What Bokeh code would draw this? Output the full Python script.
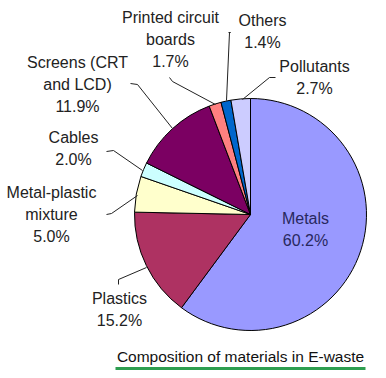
import math
from bokeh.plotting import figure
from bokeh.models import Range1d, ColumnDataSource
from bokeh.core.properties import value
from bokeh.embed import file_html
from bokeh.resources import INLINE

categories = ["Metals", "Plastics", "Metal-plastic mixture", "Cables",
              "Screens (CRT and LCD)", "Printed circuit boards", "Others", "Pollutants"]
shares = [60.2, 15.2, 5.0, 2.0, 11.9, 1.7, 1.4, 2.7]
colors = ["#9999FF", "#AE3262", "#FFFFCC", "#CCFFFF", "#7B0062", "#FF8080", "#0066CC", "#CCCCFF"]
label_lines = [["Metals", "60.2%"], ["Plastics", "15.2%"], ["Metal-plastic", "mixture", "5.0%"],
               ["Cables", "2.0%"], ["Screens (CRT", "and LCD)", "11.9%"],
               ["Printed circuit", "boards", "1.7%"], ["Others", "1.4%"], ["Pollutants", "2.7%"]]
title_text = "Composition of materials in E-waste"

W, H = 370, 370
def Y(py):
    return H - py

p = figure(width=W, height=H, output_backend="svg", toolbar_location=None,
           x_range=Range1d(0, W), y_range=Range1d(0, H), min_border=0)
p.axis.visible = False
p.grid.visible = False
p.outline_line_color = None
p.background_fill_color = "white"
p.border_fill_color = "white"

cx, cy, r = 250, Y(214), 116
total = sum(shares)
starts, ends = [], []
cum = 0.0
for s in shares:
    starts.append(math.pi / 2 - cum / total * 2 * math.pi)
    cum += s
    ends.append(math.pi / 2 - cum / total * 2 * math.pi)
src = ColumnDataSource(dict(x=[cx] * len(shares), y=[cy] * len(shares),
                            start=starts, end=ends, color=colors))
p.wedge(x="x", y="y", radius=r, start_angle="start", end_angle="end", direction="clock",
        fill_color="color", line_color="black", line_width=1, source=src)

# leader lines (pixel coords of reference)
leaders = [
    [(118, 284), (118, 279), (146, 267)],
    [(106, 214), (111, 213), (137, 195)],
    [(106, 151), (113, 150), (142, 170)],
    [(130, 83), (137, 84), (172, 128)],
    [(169, 77), (172, 81), (215, 104)],
    [(228, 32), (230, 32), (229, 32), (226, 100)],
    [(275, 77), (269, 77), (242, 99)],
]
for pts in leaders:
    p.line([q[0] for q in pts], [Y(q[1]) for q in pts], line_color="#222222", line_width=1)

# label positions: center x, first line y (pixel)
label_pos = [(305, 218), (119, 298), (51, 192), (73, 137), (77, 62), (170, 17), (262, 20), (314, 66)]
lx, ly, lt, lc = [], [], [], []
for i, lines in enumerate(label_lines):
    x0, y0 = label_pos[i]
    for j, t in enumerate(lines):
        lx.append(x0)
        ly.append(Y(y0 + 22 * j))
        lt.append(t)
        lc.append("#28285e" if i == 0 else "#222222")
p.text(x=lx, y=ly, text=lt, text_color=lc, text_font=value("Liberation Sans"),
       text_font_size="16px", text_align="center", text_baseline="middle")

p.text(x=[240], y=[Y(356)], text=[title_text], text_color="#111111",
       text_font=value("Liberation Sans"), text_font_size="15.5px",
       text_align="center", text_baseline="middle")
p.line([115, 365], [Y(368), Y(368)], line_color="#2E9E50", line_width=3)

open("out.html", "w").write(file_html(p, INLINE))
